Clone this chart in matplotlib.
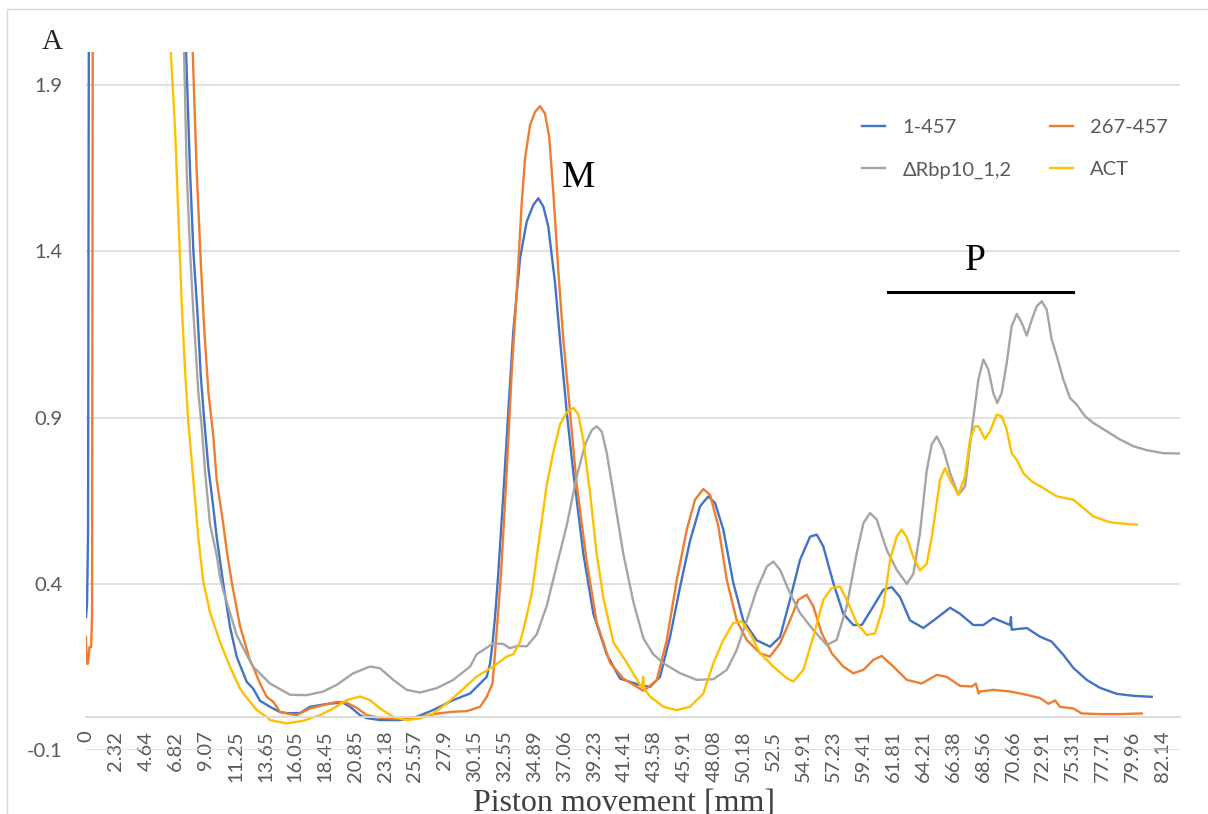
import numpy as np
import matplotlib
matplotlib.use('Agg')
import matplotlib.pyplot as plt
from matplotlib.lines import Line2D
from matplotlib.patches import Rectangle

plt.rcParams['font.family'] = ['Lato', 'DejaVu Sans']

# category axis labels (piston position in mm)
tick_labels = ['0', '2.32', '4.64', '6.82', '9.07', '11.25', '13.65', '16.05', '18.45',
               '20.85', '23.18', '25.57', '27.9', '30.15', '32.55', '34.89', '37.06',
               '39.23', '41.41', '43.58', '45.91', '48.08', '50.18', '52.5', '54.91',
               '57.23', '59.41', '61.81', '64.21', '66.38', '68.56', '70.66', '72.91',
               '75.31', '77.71', '79.96', '82.14']
y_ticks = [-0.1, 0.4, 0.9, 1.4, 1.9]

names = ['1-457', '267-457', '\u0394Rbp10_1,2', 'ACT']
colors = ['#4472C4', '#ED7D31', '#A5A5A5', '#FFC000']

blue_mm = [0.00, 0.08, 0.16, 0.23, 0.27, 7.09, 7.60, 7.90, 8.15, 8.45, 8.70, 8.95, 9.27, 9.63,
           9.88, 10.36, 10.85, 11.35, 12.15, 12.66, 13.22, 14.02, 14.82, 15.36, 16.43, 17.23,
           18.84, 19.88, 20.44, 21.23, 21.75, 22.79, 24.38, 25.71, 26.98, 28.52, 29.80, 30.58,
           31.11, 31.38, 31.58, 31.78, 32.02, 32.45, 32.84, 33.23, 33.76, 34.28, 34.80, 35.17,
           35.53, 35.89, 36.38, 36.74, 37.23, 37.71, 38.43, 39.16, 40.13, 41.10, 42.56, 43.28,
           44.04, 44.82, 45.60, 46.35, 47.07, 47.67, 48.16, 48.74, 49.44, 50.14, 51.18, 52.21,
           53.01, 53.81, 54.62, 55.41, 55.93, 56.44, 57.21, 57.94, 58.67, 59.29, 60.20, 61.01,
           61.68, 62.35, 63.15, 64.22, 65.19, 66.16, 66.88, 67.85, 68.58, 69.28, 70.46, 70.52,
           70.57, 71.70, 72.70, 73.62, 74.56, 75.36, 76.43, 77.50, 78.77, 80.02, 81.36]
blue_a = [0.30, 0.34, 0.55, 2.30, 2.60, 2.60, 2.00, 1.64, 1.40, 1.22, 1.03, 0.90, 0.75, 0.63,
          0.54, 0.40, 0.27, 0.18, 0.105, 0.085, 0.048, 0.03, 0.014, 0.011, 0.011, 0.03,
          0.04, 0.042, 0.03, 0.005, -0.004, -0.01, -0.01, 0.0, 0.02, 0.05, 0.07, 0.10,
          0.12, 0.16, 0.22, 0.30, 0.42, 0.67, 0.92, 1.16, 1.38, 1.49, 1.54, 1.56,
          1.535, 1.475, 1.305, 1.135, 0.916, 0.734, 0.491, 0.31, 0.188, 0.115, 0.095, 0.09,
          0.12, 0.24, 0.39, 0.53, 0.633, 0.663, 0.643, 0.563, 0.403, 0.29, 0.23, 0.211,
          0.24, 0.352, 0.472, 0.542, 0.548, 0.512, 0.403, 0.31, 0.276, 0.276, 0.332, 0.382,
          0.39, 0.36, 0.29, 0.267, 0.297, 0.328, 0.31, 0.276, 0.276, 0.297, 0.276, 0.30,
          0.262, 0.267, 0.241, 0.226, 0.186, 0.147, 0.111, 0.087, 0.069, 0.063, 0.06]

orange_mm = [0.00, 0.06, 0.16, 0.27, 0.40, 0.47, 0.53, 0.57, 7.60, 8.10, 8.40, 8.70, 8.95, 9.27,
             9.63, 9.88, 10.36, 10.61, 10.97, 11.61, 12.41, 12.66, 13.22, 13.75, 14.28, 14.82,
             15.36, 16.16, 17.23, 18.30, 19.37, 20.18, 20.97, 21.75, 22.79, 24.38, 25.97, 27.53,
             28.54, 29.55, 30.58, 31.11, 31.58, 31.86, 32.26, 32.71, 33.11, 33.50, 33.89, 34.15,
             34.54, 34.93, 35.29, 35.65, 35.96, 36.25, 36.62, 36.98, 37.47, 37.95, 38.68, 39.40,
             40.37, 41.34, 42.80, 43.04, 43.78, 44.56, 45.34, 46.11, 46.71, 47.31, 47.80, 48.39,
             48.98, 49.68, 50.41, 51.44, 52.21, 53.01, 53.81, 54.48, 55.15, 55.66, 56.31, 57.09,
             57.94, 58.67, 59.40, 60.20, 60.88, 61.81, 62.89, 64.09, 65.19, 65.92, 66.88, 67.74,
             68.04, 68.24, 68.34, 69.28, 70.46, 71.70, 72.70, 73.35, 73.89, 74.29, 75.36, 76.03,
             77.50, 79.02, 80.63]
orange_a = [0.24, 0.16, 0.16, 0.21, 0.21, 0.31, 2.30, 2.60, 2.60, 2.00, 1.64, 1.376, 1.177, 0.978,
            0.844, 0.712, 0.579, 0.50, 0.406, 0.273, 0.17, 0.15, 0.10, 0.06, 0.045, 0.015,
            0.01, 0.005, 0.025, 0.035, 0.045, 0.042, 0.027, 0.005, -0.003, -0.007, 0.0, 0.011,
            0.015, 0.017, 0.03, 0.06, 0.10, 0.23, 0.43, 0.734, 1.04, 1.28, 1.547, 1.68,
            1.78, 1.82, 1.837, 1.815, 1.743, 1.58, 1.34, 1.135, 0.916, 0.698, 0.467, 0.285,
            0.163, 0.115, 0.078, 0.085, 0.11, 0.23, 0.41, 0.563, 0.653, 0.685, 0.668, 0.573,
            0.412, 0.29, 0.231, 0.191, 0.181, 0.221, 0.29, 0.352, 0.367, 0.332, 0.252, 0.191,
            0.151, 0.131, 0.141, 0.171, 0.183, 0.151, 0.111, 0.10, 0.126, 0.12, 0.093, 0.091,
            0.10, 0.07, 0.076, 0.081, 0.076, 0.066, 0.056, 0.039, 0.049, 0.03, 0.025, 0.01,
            0.008, 0.008, 0.01]

gray_mm = [0.00, 7.11, 7.45, 7.65, 7.90, 8.15, 8.52, 8.78, 9.03, 9.39, 9.88, 10.12, 10.36, 11.35,
           12.41, 12.68, 14.02, 15.63, 16.97, 18.30, 19.37, 20.71, 22.01, 22.79, 23.84, 24.91,
           25.97, 27.27, 28.54, 29.80, 30.31, 30.84, 31.64, 32.45, 32.97, 33.50, 34.28, 35.05,
           35.78, 36.50, 37.23, 37.95, 38.56, 39.04, 39.40, 39.77, 40.13, 40.62, 41.34, 42.07,
           42.80, 43.52, 44.30, 45.60, 46.83, 48.04, 48.98, 49.68, 50.41, 51.18, 51.96, 52.47,
           53.01, 53.81, 54.62, 55.66, 56.70, 57.46, 58.19, 58.92, 59.41, 59.94, 60.48, 61.28,
           62.08, 62.89, 63.42, 63.95, 64.46, 64.83, 65.19, 65.67, 66.16, 66.76, 67.25, 67.74,
           68.22, 68.58, 68.93, 69.28, 69.56, 69.87, 70.22, 70.57, 70.95, 71.32, 71.70, 72.08,
           72.45, 72.83, 73.22, 73.62, 74.03, 74.56, 75.09, 75.63, 76.30, 76.96, 78.02, 79.02,
           80.02, 81.00, 82.21, 83.42]
gray_a = [2.60, 2.60, 2.00, 1.64, 1.40, 1.216, 0.978, 0.871, 0.738, 0.579, 0.486, 0.42, 0.38, 0.245,
          0.168, 0.15, 0.10, 0.066, 0.065, 0.076, 0.096, 0.131, 0.151, 0.146, 0.111, 0.081,
          0.073, 0.086, 0.111, 0.151, 0.188, 0.201, 0.221, 0.219, 0.206, 0.213, 0.212, 0.248,
          0.334, 0.455, 0.576, 0.722, 0.819, 0.862, 0.874, 0.858, 0.795, 0.673, 0.491, 0.346,
          0.236, 0.188, 0.161, 0.131, 0.111, 0.113, 0.141, 0.201, 0.29, 0.382, 0.452, 0.467,
          0.442, 0.372, 0.312, 0.261, 0.216, 0.231, 0.332, 0.492, 0.583, 0.613, 0.593, 0.502,
          0.442, 0.40, 0.43, 0.553, 0.74, 0.82, 0.843, 0.804, 0.733, 0.668, 0.693, 0.864,
          1.014, 1.075, 1.045, 0.974, 0.944, 0.974, 1.064, 1.175, 1.212, 1.185, 1.147, 1.195,
          1.235, 1.25, 1.225, 1.135, 1.085, 1.014, 0.959, 0.939, 0.904, 0.884, 0.859, 0.834,
          0.814, 0.802, 0.793, 0.792]

yellow_mm = [0.00, 5.63, 6.46, 6.77, 7.02, 7.27, 7.52, 7.77, 8.15, 8.52, 8.90, 9.39, 10.12, 10.85,
             11.61, 11.88, 12.95, 13.75, 14.02, 15.36, 16.69, 18.03, 19.10, 20.18, 21.23, 22.01,
             22.79, 23.84, 24.91, 25.97, 27.00, 28.04, 29.04, 30.31, 31.64, 32.71, 33.23, 33.76,
             34.01, 34.67, 35.29, 35.78, 36.25, 36.74, 37.23, 37.71, 38.07, 38.43, 38.92, 39.40,
             39.89, 40.62, 41.59, 42.56, 42.70, 42.78, 42.85, 43.28, 44.30, 45.34, 46.35, 47.31,
             48.04, 48.74, 49.44, 50.03, 50.66, 51.44, 52.47, 53.55, 54.08, 54.89, 55.66, 56.44,
             57.09, 57.70, 58.31, 58.92, 59.67, 60.34, 61.01, 61.55, 62.08, 62.48, 62.89, 63.42,
             63.95, 64.46, 64.83, 65.19, 65.43, 65.79, 66.16, 66.76, 67.25, 67.61, 67.98, 68.22,
             68.70, 69.05, 69.52, 69.87, 70.22, 70.57, 70.95, 71.44, 72.08, 72.95, 74.03, 75.36,
             76.16, 76.96, 78.27, 79.27, 80.27]
yellow_a = [2.60, 2.60, 2.00, 1.773, 1.508, 1.243, 1.045, 0.885, 0.712, 0.539, 0.406, 0.314, 0.225, 0.15,
            0.085, 0.07, 0.02, 0.0, -0.01, -0.02, -0.012, 0.005, 0.025, 0.05, 0.061, 0.05,
            0.025, 0.0, -0.01, -0.005, 0.01, 0.04, 0.075, 0.121, 0.151, 0.181, 0.188, 0.225,
            0.26, 0.37, 0.552, 0.698, 0.795, 0.88, 0.916, 0.929, 0.91, 0.831, 0.673, 0.491,
            0.357, 0.224, 0.163, 0.096, 0.09, 0.12, 0.085, 0.061, 0.03, 0.02, 0.03, 0.07,
            0.161, 0.231, 0.282, 0.287, 0.251, 0.191, 0.151, 0.116, 0.106, 0.141, 0.241, 0.352,
            0.387, 0.392, 0.342, 0.282, 0.246, 0.251, 0.332, 0.472, 0.542, 0.563, 0.54, 0.48,
            0.44, 0.46, 0.54, 0.643, 0.713, 0.748, 0.713, 0.668, 0.723, 0.834, 0.874, 0.874,
            0.836, 0.859, 0.909, 0.904, 0.864, 0.793, 0.773, 0.733, 0.708, 0.688, 0.663, 0.653,
            0.628, 0.603, 0.585, 0.581, 0.578]

# Excel-style category axis: map mm to the evenly spaced label positions
tick_mm = np.array([float(s) for s in tick_labels])
cat_mm = np.append(tick_mm, 2 * tick_mm[-1] - tick_mm[-2])
cat_idx = np.arange(len(cat_mm))


def to_cat(mm):
    return np.interp(mm, cat_mm, cat_idx)


W, H = 1208, 814
fig = plt.figure(figsize=(W / 100, H / 100), dpi=100)
ax = fig.add_axes([86 / W, 1 - 750 / H, (1180 - 86) / W, (750 - 52) / H])

# axis line sits at zero, like the Excel original (do this before tick labels)
for s in ['left', 'right', 'top']:
    ax.spines[s].set_visible(False)
ax.spines['bottom'].set_position(('data', 0))
ax.spines['bottom'].set_color('#d9d9d9')
ax.spines['bottom'].set_linewidth(1.3)

series = [(blue_mm, blue_a), (orange_mm, orange_a), (gray_mm, gray_a), (yellow_mm, yellow_a)]
handles = []
for (mm, a), name, c in zip(series, names, colors):
    h, = ax.plot(to_cat(np.array(mm)), a, color=c, lw=1.7, label=name, solid_joinstyle='round')
    handles.append(h)

ax.set_xlim(0, to_cat(gray_mm[-1]))
ax.set_ylim(-0.1, 2.0)
ax.set_yticks(y_ticks)
ax.set_yticklabels([f'{v:g}' for v in y_ticks])
ax.set_xticks(np.arange(len(tick_labels)))
ax.set_xticklabels(tick_labels)
ax.grid(axis='y', color='#d9d9d9', lw=1.1)
ax.set_axisbelow(True)
ax.tick_params(length=0, labelsize=14.5, labelcolor='#595959')
ax.tick_params(axis='x', pad=10, labelrotation=90)
ax.tick_params(axis='y', pad=17)

order = [0, 2, 1, 3]
leg = ax.legend([handles[i] for i in order], [names[i] for i in order],
                loc='upper left', bbox_to_anchor=(862 / W, 1 - 119 / H),
                bbox_transform=fig.transFigure, ncol=2, frameon=False, fontsize=14.5,
                handlelength=1.15, handletextpad=0.85, columnspacing=1.9,
                labelspacing=1.25, borderpad=0, borderaxespad=0)
for t in leg.get_texts():
    t.set_color('#595959')

serif = 'Liberation Serif'
fig.text(42 / W, 1 - 49 / H, 'A', family=serif, fontsize=21, color='#262626', va='baseline')
fig.text(562 / W, 1 - 187 / H, 'M', family=serif, fontsize=27, color='black', va='baseline')
fig.text(965 / W, 1 - 270 / H, 'P', family=serif, fontsize=27, color='black', va='baseline')
fig.add_artist(Line2D([888 / W, 1073 / W], [1 - 292 / H] * 2, color='black', lw=2.2,
                      transform=fig.transFigure))
fig.text(624 / W, 1 - 811 / H, 'Piston movement [mm]', family=serif, fontsize=23,
         color='#404040', ha='center', va='baseline')

# chart area border
fig.add_artist(Rectangle((7 / W, -0.1), 1.2, 1.1 - 9 / H, transform=fig.transFigure,
                         fill=False, ec='#d9d9d9', lw=1.0))

fig.savefig('out.png', dpi=100)
